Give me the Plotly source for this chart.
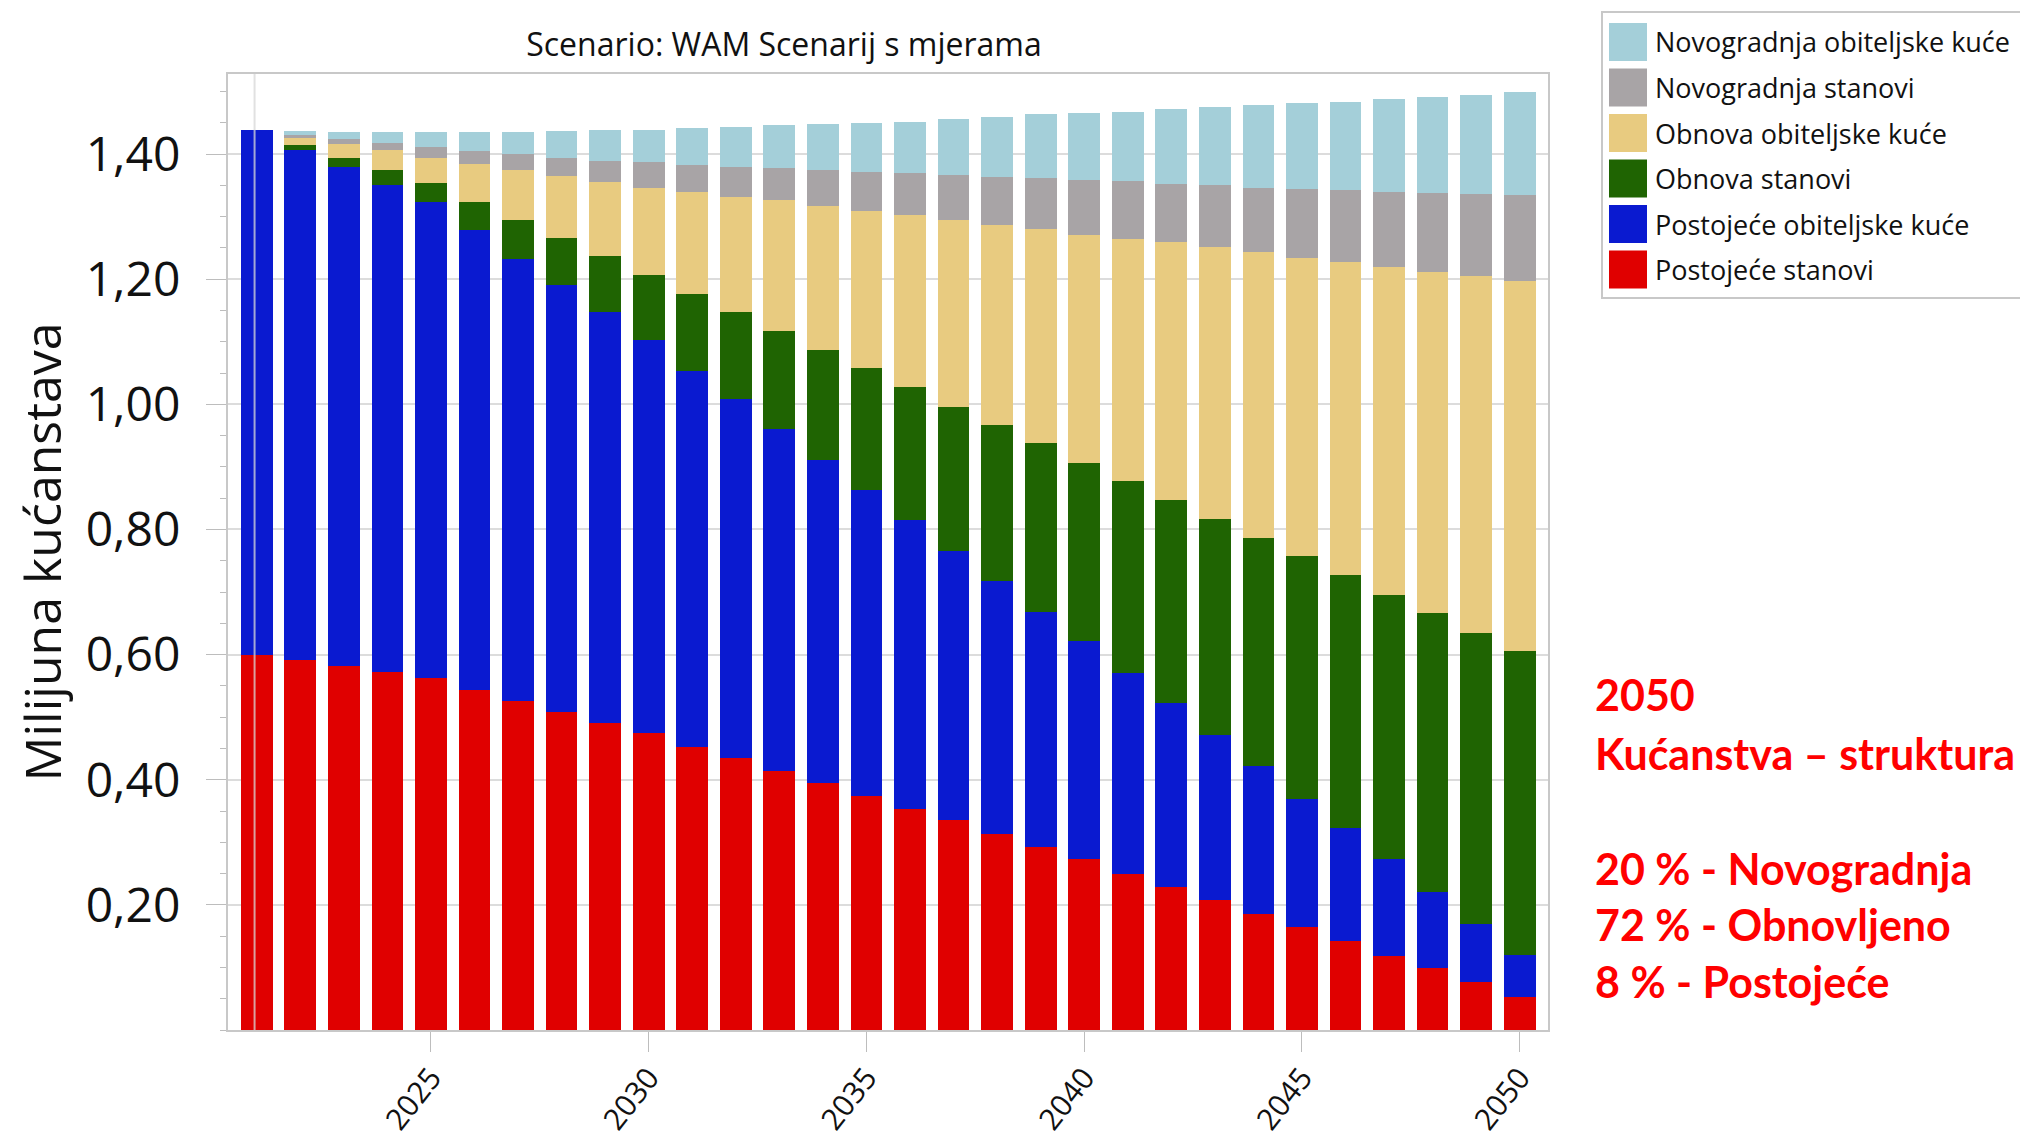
import plotly.graph_objects as go

years = list(range(2021, 2051))

# million households per category (stack order bottom -> top)
postojece_stanovi = [0.600, 0.592, 0.582, 0.572, 0.562, 0.544, 0.526, 0.508, 0.490, 0.474,
                     0.453, 0.434, 0.414, 0.395, 0.374, 0.354, 0.335, 0.314, 0.293, 0.273,
                     0.250, 0.229, 0.208, 0.185, 0.165, 0.142, 0.119, 0.099, 0.076, 0.053]
postojece_kuce = [0.838, 0.814, 0.797, 0.778, 0.761, 0.734, 0.706, 0.683, 0.658, 0.629,
                  0.601, 0.575, 0.547, 0.516, 0.489, 0.461, 0.431, 0.404, 0.375, 0.348,
                  0.321, 0.293, 0.264, 0.237, 0.205, 0.181, 0.154, 0.122, 0.094, 0.067]
obnova_stanovi = [0.000, 0.009, 0.015, 0.025, 0.030, 0.045, 0.062, 0.075, 0.089, 0.104,
                  0.123, 0.138, 0.157, 0.176, 0.195, 0.212, 0.230, 0.249, 0.270, 0.286,
                  0.307, 0.325, 0.344, 0.365, 0.388, 0.404, 0.423, 0.446, 0.465, 0.486]
obnova_kuce = [0.000, 0.010, 0.022, 0.031, 0.041, 0.061, 0.080, 0.099, 0.118, 0.139,
               0.163, 0.185, 0.208, 0.230, 0.251, 0.276, 0.298, 0.319, 0.342, 0.364,
               0.387, 0.412, 0.435, 0.456, 0.476, 0.501, 0.524, 0.545, 0.570, 0.591]
novogradnja_stanovi = [0.000, 0.005, 0.008, 0.011, 0.018, 0.021, 0.026, 0.029, 0.034, 0.041,
                       0.043, 0.047, 0.051, 0.058, 0.062, 0.066, 0.073, 0.077, 0.081, 0.088,
                       0.092, 0.093, 0.099, 0.103, 0.110, 0.114, 0.120, 0.126, 0.131, 0.138]
novogradnja_kuce = [0.000, 0.007, 0.012, 0.019, 0.024, 0.031, 0.036, 0.043, 0.049, 0.052,
                    0.058, 0.065, 0.069, 0.073, 0.079, 0.083, 0.089, 0.097, 0.103, 0.107,
                    0.111, 0.120, 0.126, 0.132, 0.138, 0.142, 0.148, 0.153, 0.159, 0.165]

y_ticks = [0.2, 0.4, 0.6, 0.8, 1.0, 1.2, 1.4]
x_ticks = [2025, 2030, 2035, 2040, 2045, 2050]

series = [
    ("Postojeće stanovi", postojece_stanovi, "#E00000"),
    ("Postojeće obiteljske kuće", postojece_kuce, "#0A1AD0"),
    ("Obnova stanovi", obnova_stanovi, "#1F6402"),
    ("Obnova obiteljske kuće", obnova_kuce, "#E8CB80"),
    ("Novogradnja stanovi", novogradnja_stanovi, "#A8A4A6"),
    ("Novogradnja obiteljske kuće", novogradnja_kuce, "#A4CFD9"),
]

note_lines = ["2050", "Kućanstva – struktura", "20 % - Novogradnja",
              "72 % - Obnovljeno", "8 % - Postojeće"]

# page has an 8px body margin, so the figure is a bit smaller and shifted
OFF = 8
W, H = 2028 - OFF, 1138 - OFF
L, R, T, B = 228 - OFF, 480, 74 - OFF, 108
PW, PH = W - L - R, H - T - B


def px(x):
    # page pixel -> paper x
    return (x - OFF - L) / PW


def py(y):
    # page pixel -> paper y
    return (H - B - (y - OFF)) / PH


font = "Open Sans, Noto Sans, sans-serif"

fig = go.Figure()
for name, vals, col in series:
    fig.add_trace(go.Bar(x=years, y=vals, name=name, marker_color=col,
                         marker_line_width=0, showlegend=False))

shapes = []
annotations = []

# vertical cursor line on first year
shapes.append(dict(type="line", xref="x", yref="paper", x0=2020.95, x1=2020.95,
                   y0=0, y1=1, line=dict(color="rgba(215,215,215,0.75)", width=2)))

# legend box (custom, to match large swatches)
shapes.append(dict(type="rect", xref="paper", yref="paper",
                   x0=px(1602), x1=px(2040), y0=py(298), y1=py(12),
                   line=dict(color="#C8C8C8", width=2), fillcolor="white"))
for i, (name, vals, col) in enumerate(reversed(series)):
    cy = 42 + i * 45.5
    shapes.append(dict(type="rect", xref="paper", yref="paper",
                       x0=px(1609), x1=px(1647), y0=py(cy + 19), y1=py(cy - 19),
                       line=dict(width=0), fillcolor=col))
    annotations.append(dict(text=name, xref="paper", yref="paper", x=px(1653), y=py(cy),
                            xanchor="left", yanchor="middle", showarrow=False,
                            font=dict(family=font, size=27, color="#111111")))

# red note on the right
note_y = [692, 751, 866, 922, 979]
for txt, cy in zip(note_lines, note_y):
    annotations.append(dict(text="<b>" + txt + "</b>", xref="paper", yref="paper",
                            x=px(1593), y=py(cy + 2), xanchor="left", yanchor="middle",
                            showarrow=False,
                            font=dict(family="Lato, sans-serif", size=43, color="#FF0000")))

fig.update_layout(
    width=W, height=H,
    barmode="stack", bargap=0.27,
    paper_bgcolor="white", plot_bgcolor="white",
    margin=dict(l=L, r=R, t=T, b=B, autoexpand=False),
    separators=", ",
    title=dict(text="Scenario: WAM Scenarij s mjerama", x=(784 - OFF) / W, xanchor="center",
               y=1 - (45 - OFF) / H, yanchor="middle",
               font=dict(family=font, size=32, color="#111111")),
    shapes=shapes,
    annotations=annotations,
    showlegend=False,
)
fig.update_xaxes(range=[2020.34, 2050.65], tickvals=x_ticks, ticktext=[str(v) for v in x_ticks],
                 tickangle=-52, ticks="outside", ticklen=20, tickcolor="#BDBDBD",
                 ticklabelstandoff=-4,
                 showgrid=False, showline=True, linecolor="#C8C8C8", linewidth=2, mirror=True,
                 tickfont=dict(family=font, size=30, color="#111111"), zeroline=False,
                 automargin=False)
fig.update_yaxes(range=[0, 1.528], tickvals=y_ticks, tickformat=".2f",
                 ticks="outside", ticklen=20, tickcolor="#BDBDBD", ticklabelstandoff=16,
                 minor=dict(dtick=0.05, ticks="outside", ticklen=6, tickcolor="#BDBDBD",
                            showgrid=False),
                 showgrid=True, gridcolor="#DCDCDC", gridwidth=2,
                 showline=True, linecolor="#C8C8C8", linewidth=2, mirror=True,
                 tickfont=dict(family=font, size=48, color="#111111"), zeroline=False,
                 automargin=False,
                 title=dict(text="Milijuna kućanstava", standoff=10,
                            font=dict(family=font, size=50, color="#111111")))

fig.write_html("out.html")
